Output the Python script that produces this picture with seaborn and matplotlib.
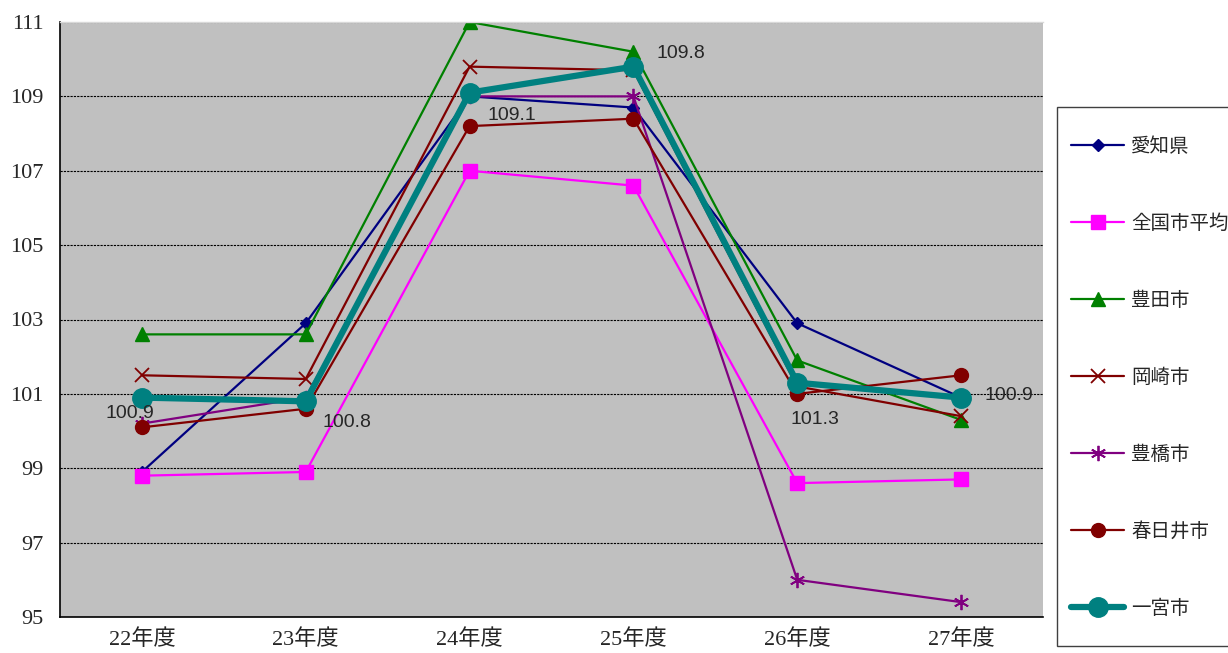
import matplotlib
matplotlib.use("Agg")
import matplotlib.pyplot as plt
import seaborn as sns
import numpy as np
import pandas as pd
from matplotlib.patches import Rectangle

years = ["22年度", "23年度", "24年度", "25年度", "26年度", "27年度"]
series_names = ["愛知県", "全国市平均", "豊田市", "岡崎市", "豊橋市", "春日井市", "一宮市"]
aichi = [98.9, 102.9, 109.0, 108.7, 102.9, 100.9]
zenkoku = [98.8, 98.9, 107.0, 106.6, 98.6, 98.7]
toyota = [102.6, 102.6, 111.0, 110.2, 101.9, 100.3]
okazaki = [101.5, 101.4, 109.8, 109.7, 101.2, 100.4]
toyohashi = [100.2, 100.9, 109.0, 109.0, 96.0, 95.4]
kasugai = [100.1, 100.6, 108.2, 108.4, 101.0, 101.5]
ichinomiya = [100.9, 100.8, 109.1, 109.8, 101.3, 100.9]
yticks = [95, 97, 99, 101, 103, 105, 107, 109, 111]

values = [aichi, zenkoku, toyota, okazaki, toyohashi, kasugai, ichinomiya]
colors = ["#000080", "#FF00FF", "#008000", "#800000", "#800080", "#800000", "#008080"]
markers = ["D", "s", "^", "x", (6, 2, 0), "o", "o"]
msizes = [6, 10, 10, 10, 11, 10, 14]
lws = [1.6, 1.6, 1.6, 1.6, 1.6, 1.6, 4.5]
mews = [1, 1, 1, 1.3, 1.3, 1, 1]

sns.set_style("white")
plt.rcParams['font.family'] = ['Liberation Serif', 'Noto Sans CJK JP', 'DejaVu Sans']

W, H = 1228, 653
fig = plt.figure(figsize=(W / 100, H / 100), dpi=100)
ax = fig.add_axes([60 / W, 36 / H, 983 / W, 595 / H])
ax.set_facecolor("#C0C0C0")

xpos = np.arange(len(years))
for name, vals, c, m, ms, lw, mew in zip(series_names, values, colors, markers, msizes, lws, mews):
    df = pd.DataFrame({"x": xpos, "y": vals})
    sns.lineplot(data=df, x="x", y="y", ax=ax, color=c, marker=m, markersize=ms,
                 linewidth=lw, markeredgecolor=c, markerfacecolor=c,
                 markeredgewidth=mew, label=name, legend=False)

# data labels for 一宮市 (offsets in pixels, label centre relative to point)
offsets_px = [(-12, -16), (41, -21), (42, -23), (47, 13), (18, -37), (48, 2)]
for i, v in enumerate(ichinomiya):
    dx, dy = offsets_px[i]
    ax.annotate(f"{v:.1f}", (xpos[i], v), xytext=(dx * 0.72, dy * 0.72), textcoords="offset points",
                ha="center", va="center", fontsize=14, family=['Liberation Sans', 'DejaVu Sans'])

ax.set_xlim(-0.5, 5.5)
ax.set_ylim(95, 111)
ax.set_yticks(yticks)
ax.set_yticklabels([str(t) for t in yticks], fontsize=16)
ax.set_xticks(xpos)
ax.set_xticklabels(years, fontsize=16)
ax.set_xticks(np.arange(-0.5, 5.6, 1), minor=True)
ax.tick_params(axis='x', which='major', length=0, pad=9)
ax.tick_params(axis='x', which='minor', direction='in', length=5, color='#606060')
ax.tick_params(axis='y', which='major', direction='in', length=4, pad=12)
ax.set_xlabel("")
ax.set_ylabel("")
ax.yaxis.grid(True, linestyle=(0, (2, 1)), color='black', linewidth=0.8)
ax.set_axisbelow(True)
ax.spines["right"].set_visible(False)
ax.spines["top"].set_color("#D8D8D8")
ax.spines["top"].set_linewidth(1.0)
for s in ["left", "bottom"]:
    ax.spines[s].set_color("black")
    ax.spines[s].set_linewidth(1.2)

# legend frame
fig.patches.append(Rectangle((1057 / W, 1 - 646 / H), (1240 - 1057) / W, (646 - 107) / H,
                             transform=fig.transFigure, facecolor="white",
                             edgecolor="#404040", linewidth=1.0, zorder=0))

handles, labels = ax.get_legend_handles_labels()
leg = fig.legend(handles, labels, loc="upper left",
                 bbox_to_anchor=(1071 / W, 1 - 136 / H), frameon=False,
                 labelspacing=2.88, handlelength=2.75, handletextpad=0.35,
                 borderpad=0, borderaxespad=0,
                 prop={'family': ['Noto Sans CJK JP', 'DejaVu Sans'], 'size': 14})

fig.savefig("out.png", dpi=100, facecolor="white")
